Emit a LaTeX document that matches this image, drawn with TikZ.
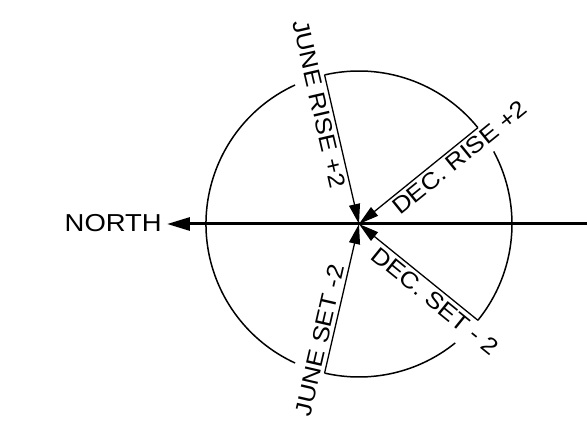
\documentclass[tikz,border=0pt]{standalone}
\usepackage{fontspec}
\setmainfont{Liberation Sans}
\newfontfamily\cadfont[FakeStretch=1.12]{Liberation Sans}
\usetikzlibrary{arrows.meta}
\begin{document}
\begin{tikzpicture}[x=1pt,y=1pt,
  lbl/.style={font=\cadfont\fontsize{23}{23}\selectfont, inner sep=3.5pt},
  ray/.style={line width=1.3pt, -{Triangle[length=20pt,width=11pt]}},
  rim/.style={line width=1.5pt},
  axis/.style={line width=3pt, -{Triangle[length=23pt,width=13pt]}}]
\useasboundingbox (-359,-214) rectangle (228,224);
\coordinate (c) at (0,0);
\coordinate (e) at (228,0);
\coordinate (n) at (-192,0);
\coordinate (r1) at (103:153pt);
\coordinate (r2) at (39:153pt);
\coordinate (r3) at (-39:153pt);
\coordinate (r4) at (-103:153pt);
% circle pieces
\draw[rim] (-39:153pt) arc[start angle=-39, end angle=28.3, radius=153pt];
\draw[rim] (39:153pt) arc[start angle=39, end angle=103, radius=153pt];
\draw[rim] (114.7:153pt) arc[start angle=114.7, end angle=245.3, radius=153pt];
\draw[rim] (257:153pt) arc[start angle=257, end angle=309, radius=153pt];
% axis
\draw[axis] (e) -- (n);
\node[font=\cadfont\fontsize{24.5}{24.5}\selectfont, anchor=east, inner sep=0pt] (north) at ([xshift=-5pt,yshift=1pt]n) {NORTH};
% rays
\draw[ray] (r1) -- (c);
\draw[ray] (r2) -- (c);
\draw[ray] (r3) -- (c);
\draw[ray] (r4) -- (c);
% labels
\node[lbl, rotate=-77, anchor=north] (jr) at (103:126pt) {JUNE RISE +2};
\node[lbl, rotate=39, anchor=north] (dr) at (39:120pt) {DEC. RISE +2};
\node[lbl, rotate=-39, anchor=north] (ds) at (-39:108pt) {DEC. SET - 2};
\node[lbl, rotate=77, anchor=south] (js) at (-103:122pt) {JUNE SET -2};
\end{tikzpicture}
\end{document}
